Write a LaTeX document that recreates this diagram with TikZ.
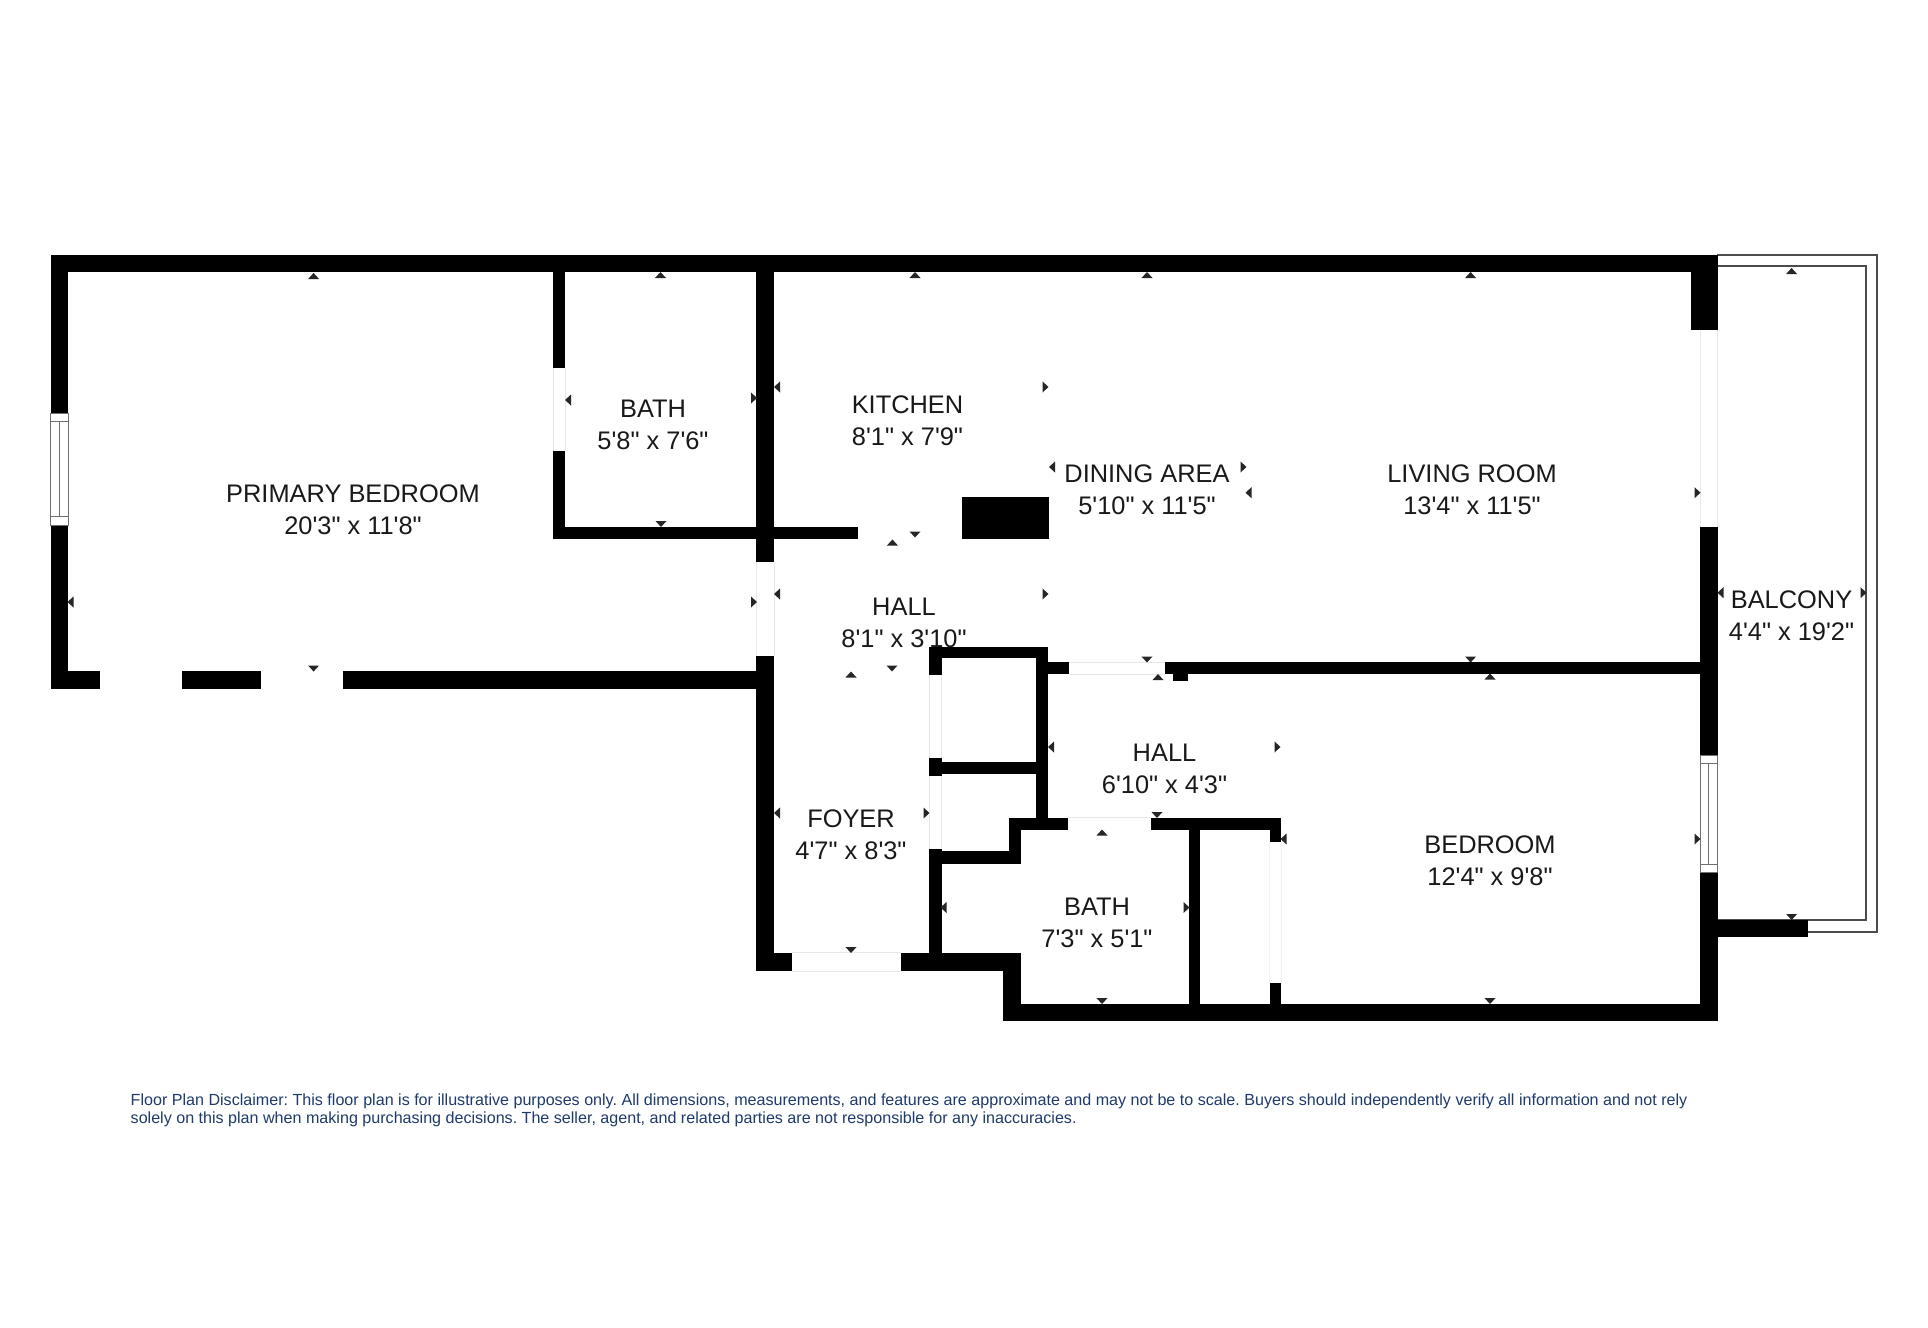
\documentclass[tikz,border=0pt]{standalone}
\usepackage{fontspec}
\newfontfamily\planfont{Liberation Sans}
\definecolor{navy}{HTML}{1F3A6B}
\definecolor{doorgray}{HTML}{E8E8E8}
\definecolor{faintgray}{HTML}{F2F2F2}
\definecolor{wingray}{HTML}{707070}
\newcommand{\wl}[4]{\fill[wallfill] (#1,#2) rectangle (#3,#4);}
\newcommand{\mkU}[2]{\fill[markfill] (#1-5.5,#2+3) -- (#1+5.5,#2+3) -- (#1,#2-3) -- cycle;}
\newcommand{\mkD}[2]{\fill[markfill] (#1-5.5,#2-3) -- (#1+5.5,#2-3) -- (#1,#2+3) -- cycle;}
\newcommand{\mkL}[2]{\fill[markfill] (#1+3,#2-5.5) -- (#1+3,#2+5.5) -- (#1-3,#2) -- cycle;}
\newcommand{\mkR}[2]{\fill[markfill] (#1-3,#2-5.5) -- (#1-3,#2+5.5) -- (#1+3,#2) -- cycle;}
\newcommand{\gapV}[3]{\draw[doorline] (#1,#2) -- (#1,#3);}
\begin{document}
\begin{tikzpicture}[x=0.5pt,y=-0.5pt,
  wallfill/.style={fill=black},
  markfill/.style={fill=black!85},
  doorline/.style={draw=doorgray,line width=0.5pt},
  faintline/.style={draw=faintgray,line width=0.5pt},
  winline/.style={draw=wingray,line width=0.5pt},
  railline/.style={draw=black!70,line width=0.8pt},
  roomlabel/.style={inner sep=0pt,align=center,text=black!90,font=\planfont\fontsize{12.7}{16}\selectfont},
  notelabel/.style={inner sep=0pt,anchor=north west,align=left,text=navy,font=\planfont\frenchspacing\fontsize{8.05}{9.3}\selectfont}]
\useasboundingbox[fill=white] (0,0) rectangle (1928,1328);

% balcony rails
\draw[railline] (1717,254.7) -- (1877,254.7) -- (1877,931.7) -- (1800,931.7);
\draw[railline] (1717,266) -- (1866,266) -- (1866,920) -- (1717,920);
\wl{1717}{920}{1807.6}{936.7}

% door outlines
\gapV{553}{367.7}{451}\gapV{565}{367.7}{451}
\gapV{756}{561.8}{656}\gapV{774}{561.8}{656}
\gapV{1700}{330}{526.7}\gapV{1717}{330}{526.7}
\gapV{929}{674.6}{757.9}\gapV{941.5}{674.6}{757.9}
\gapV{929}{775.7}{849}\gapV{941.5}{775.7}{849}
\draw[faintline] (1269.6,842) -- (1269.6,983) (1281,842) -- (1281,983);
\draw[doorline] (792,952.5) -- (901,952.5) (792,971) -- (901,971);
\draw[doorline] (1069,662.3) -- (1165,662.3) (1069,674) -- (1165,674);
\draw[doorline] (1068,817.5) -- (1151,817.5);

% outer and main walls
\wl{50.5}{254.5}{1717.8}{272}
\wl{50.5}{254.5}{68}{413.3}
\wl{50.5}{525}{68}{689}
\wl{50.5}{671}{100}{689}
\wl{182}{671}{261}{689}
\wl{343}{671}{756}{689}
\wl{553}{272}{565}{367.7}
\wl{553}{451}{565}{539}
\wl{553}{526.5}{857.6}{539}
\wl{756}{254.5}{774}{561.8}
\wl{756}{656}{774}{971}
\wl{756}{952.5}{792}{971}
\wl{901}{952.5}{1020.5}{971}
\wl{1003}{952.5}{1020.5}{1021}
\wl{1003}{1003.6}{1717.8}{1021}
\wl{1700}{526.7}{1717.8}{755}
\wl{1700}{872}{1717.8}{1021}
\wl{1691.4}{254.5}{1717.8}{330}
\wl{1165}{662.3}{1700}{674}
\wl{1173.3}{674}{1188.3}{681}
\wl{1048.3}{662.3}{1069}{674}
% chimney block
\wl{961.6}{496.8}{1048.7}{539}
% closets
\wl{928.7}{646.7}{1048.3}{658.3}
\wl{928.7}{646.7}{941.5}{674.6}
\wl{1036}{646.7}{1048.3}{817.5}
\wl{929}{757.9}{941.5}{775.7}
\wl{941}{762}{1036}{774}
\wl{929}{849}{941.5}{953}
\wl{941}{851.4}{1020.5}{864}
\wl{1009}{817.5}{1020.5}{864}
\wl{1009}{817.5}{1068}{830}
\wl{1151}{817.5}{1281}{830}
\wl{1189}{830}{1199.5}{1003.6}
\wl{1269.6}{817.5}{1281}{842}
\wl{1269.6}{983}{1281}{1003.6}

% windows
\draw[winline] (50.5,413.3) rectangle (68,525);
\draw[winline] (50.5,421.7) -- (68,421.7) (50.5,516.7) -- (68,516.7) (59.5,421.7) -- (59.5,516.7);
\draw[winline] (1700,755) rectangle (1717.8,872);
\draw[winline] (1700,763.3) -- (1717.8,763.3) (1700,864) -- (1717.8,864) (1708.7,763.3) -- (1708.7,864);

% measure markers
\mkU{313.6}{276}\mkL{70.5}{602}\mkL{568}{400}\mkD{313.6}{668.5}
\mkU{660.5}{275}\mkR{754}{398}\mkR{754}{602}\mkD{661}{524}
\mkU{915}{275}\mkL{777}{387}\mkR{1045.5}{387}\mkD{915}{534.5}
\mkU{892.4}{542.5}\mkL{777}{594}\mkR{1045.5}{594}\mkD{892}{668.5}
\mkU{1147}{275}\mkL{1052}{467}\mkR{1243.5}{467}\mkD{1147}{659.5}
\mkU{1470.6}{275}\mkL{1248.5}{492.7}\mkR{1697.5}{492.7}\mkD{1470.6}{659.5}
\mkU{851}{674.5}\mkL{777}{813}\mkR{926.5}{813}\mkD{851}{950}
\mkU{1158}{677}\mkL{1051}{747}\mkR{1277.5}{747}\mkD{1157}{815}
\mkU{1102}{832.5}\mkL{943.5}{907.5}\mkR{1186.5}{907.5}\mkD{1102}{1001}
\mkU{1490}{676.5}\mkL{1283.5}{839}\mkR{1697.5}{839}\mkD{1490}{1001}
\mkU{1791.6}{271}\mkL{1720.5}{592.7}\mkR{1863.5}{592.7}\mkD{1791.6}{917}

% labels
\node[roomlabel] (primary) at (353,510) {PRIMARY BEDROOM\\20'3" x 11'8"};
\node[roomlabel] (bathone) at (653,425) {BATH\\5'8" x 7'6"};
\node[roomlabel] (kitchen) at (907.5,420.3) {KITCHEN\\8'1" x 7'9"};
\node[roomlabel] (dining) at (1147,490) {DINING AREA\\5'10" x 11'5"};
\node[roomlabel] (living) at (1472,490) {LIVING ROOM\\13'4" x 11'5"};
\node[roomlabel] (balcony) at (1791.5,615.6) {BALCONY\\4'4" x 19'2"};
\node[roomlabel] (hallone) at (904,623) {HALL\\8'1" x 3'10"};
\node[roomlabel] (halltwo) at (1164.5,768.8) {HALL\\6'10" x 4'3"};
\node[roomlabel] (foyer) at (851,834.7) {FOYER\\4'7" x 8'3"};
\node[roomlabel] (bedroom) at (1490,861) {BEDROOM\\12'4" x 9'8"};
\node[roomlabel] (bathtwo) at (1097,923) {BATH\\7'3" x 5'1"};
\node[notelabel] (note) at (130.3,1093) {Floor Plan Disclaimer: This floor plan is for illustrative purposes only. All dimensions, measurements, and features are approximate and may not be to scale. Buyers should independently verify all information and not rely\\solely on this plan when making purchasing decisions. The seller, agent, and related parties are not responsible for any inaccuracies.};
\end{tikzpicture}
\end{document}
